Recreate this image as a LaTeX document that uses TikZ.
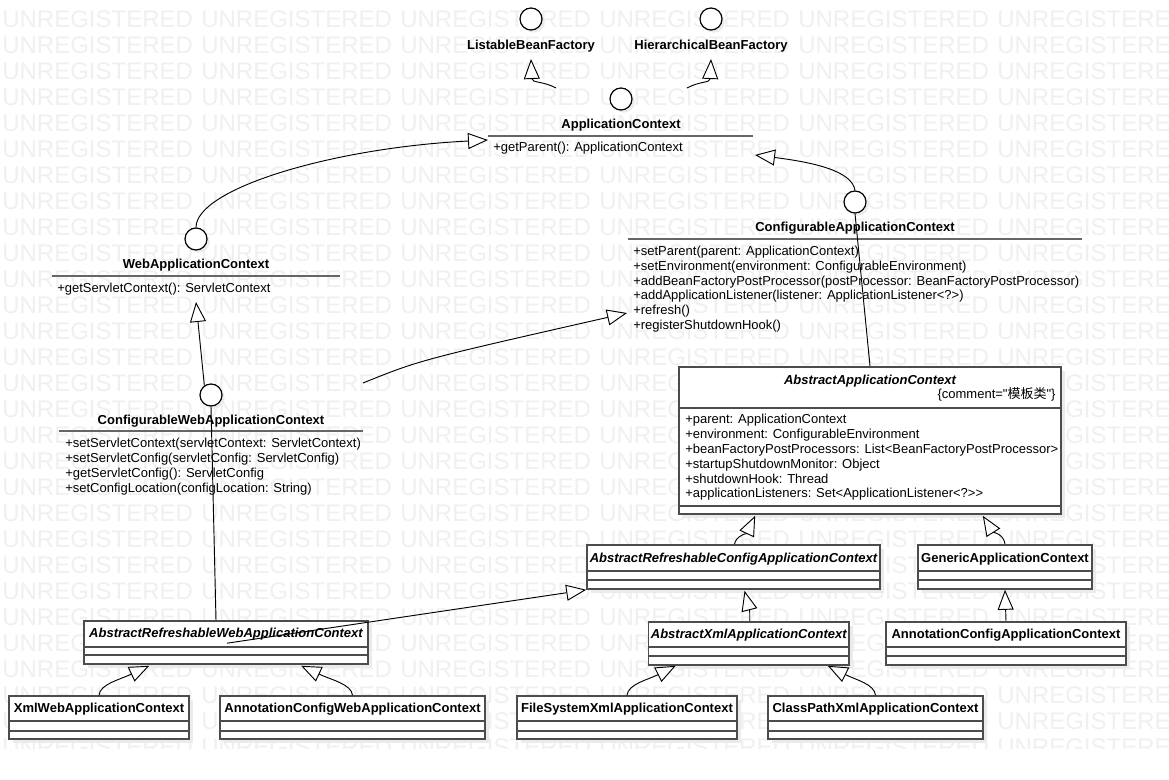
\documentclass[tikz,border=0pt]{standalone}
\usepackage{fontspec}
\newfontfamily\umlfont{Liberation Sans}
\newfontfamily\cjk{Noto Sans CJK SC}
\usetikzlibrary{arrows.meta,calc,fit,shadows}

\begin{document}
\begin{tikzpicture}[x=0.75pt,y=-0.75pt,
    wmark/.style={anchor=west,inner sep=0pt,text=black!6,font=\umlfont\fontsize{18}{18}\selectfont},
    lolli/.style={circle,draw=black,fill=white,line width=0.9pt,minimum size=16.5pt,inner sep=0pt,
        drop shadow={shadow xshift=2pt,shadow yshift=-2pt,fill=black!8,opacity=1}},
    ifname/.style={anchor=base,inner sep=0pt,font=\umlfont\fontsize{9.75}{11.25}\selectfont\bfseries},
    ctitle/.style={anchor=base,inner sep=0pt,font=\umlfont\fontsize{9.75}{11.25}\selectfont\bfseries},
    atitle/.style={anchor=base,inner sep=0pt,font=\umlfont\fontsize{9.75}{11.25}\selectfont\bfseries\itshape},
    optext/.style={anchor=base west,inner sep=0pt,font=\umlfont\fontsize{9.75}{11.25}\selectfont},
    isep/.style={draw=black!60,line width=1.1pt},
    classbox/.style={draw=black!70,fill=white,line width=1.2pt,inner sep=0pt,
        drop shadow={shadow xshift=3pt,shadow yshift=-3pt,fill=black!8,opacity=1}},
    csep/.style={draw=black!70,line width=1.2pt},
    gen/.style={draw=black,line width=0.7pt,-{Triangle[length=15pt,width=12pt,fill=white]}},
    real/.style={draw=black,line width=0.7pt}]
\useasboundingbox (0,0) rectangle (1169,780);
\fill[white] (0,0) rectangle (1169,780);

\begin{scope}
    \clip (0,0) rectangle (1169,748);
    \foreach \r in {0,...,28} {
        \foreach \c in {0,...,5} {
            \node[wmark] (wm\r-\c) at ({2+199*\c},{19+26*\r}) {UNREGISTERED};
        }
    }
\end{scope}

% interfaces
\node[lolli] (lbf) at (531,19) {};
\node[ifname] (lbfname) at (531,49.5) {ListableBeanFactory};
\node[lolli] (hbf) at (711,19) {};
\node[ifname] (hbfname) at (711,49.5) {HierarchicalBeanFactory};

\node[lolli] (ac) at (621,99) {};
\node[ifname] (acname) at (621,128.5) {ApplicationContext};
\draw[isep] (488,136) -- (753,136);
\node[optext] (acop) at (493,152) {+getParent(): ApplicationContext};

\node[lolli] (wac) at (196,239) {};
\node[ifname] (wacname) at (196,268.5) {WebApplicationContext};
\draw[isep] (52,276) -- (340,276);
\node[optext] (wacop) at (57,292) {+getServletContext(): ServletContext};

\node[lolli] (cwac) at (211,395) {};
\node[ifname] (cwacname) at (211,424.5) {ConfigurableWebApplicationContext};
\draw[isep] (59,431) -- (363,431);
\node[optext] (cwacop1) at (65,447.3) {+setServletContext(servletContext: ServletContext)};
\node[optext] (cwacop2) at (65,462.5) {+setServletConfig(servletConfig: ServletConfig)};
\node[optext] (cwacop3) at (65,477.7) {+getServletConfig(): ServletConfig};
\node[optext] (cwacop4) at (65,492.9) {+setConfigLocation(configLocation: String)};

\node[lolli] (cac) at (855,202) {};
\node[ifname] (cacname) at (855,231.5) {ConfigurableApplicationContext};
\draw[isep] (628,239) -- (1082,239);
\node[optext] (cacop1) at (633,255.5) {+setParent(parent: ApplicationContext)};
\node[optext] (cacop2) at (633,270.3) {+setEnvironment(environment: ConfigurableEnvironment)};
\node[optext] (cacop3) at (633,285.1) {+addBeanFactoryPostProcessor(postProcessor: BeanFactoryPostProcessor)};
\node[optext] (cacop4) at (633,299.9) {+addApplicationListener(listener: ApplicationListener<?>)};
\node[optext] (cacop5) at (633,314.7) {+refresh()};
\node[optext] (cacop6) at (633,329.5) {+registerShutdownHook()};

% classes
\node[classbox,fit={(679,367) (1061,514)}] (aac) {};
\draw[csep] (679,408) -- (1061,408);
\draw[csep] (679,506) -- (1061,506);
\node[atitle] (aactitle) at ($(aac.north)+(0,18.5)$) {AbstractApplicationContext};
\node[optext,anchor=base east] (aaccomment) at ($(aac.north east)+(-6,32.5)$) {\{comment="{\cjk 模板类}"\}};
\node[optext] (aacat1) at (685,423.8) {+parent: ApplicationContext};
\node[optext] (aacat2) at (685,438.6) {+environment: ConfigurableEnvironment};
\node[optext] (aacat3) at (685,453.4) {+beanFactoryPostProcessors: List<BeanFactoryPostProcessor>};
\node[optext] (aacat4) at (685,468.2) {+startupShutdownMonitor: Object};
\node[optext] (aacat5) at (685,483) {+shutdownHook: Thread};
\node[optext] (aacat6) at (685,497.8) {+applicationListeners: Set<ApplicationListener<?>>};

\node[classbox,fit={(587,545) (880,589)}] (arcac) {};
\draw[csep] (587,571) -- (880,571);
\draw[csep] (587,580) -- (880,580);
\node[atitle] (arcactitle) at ($(arcac.north)+(0,18.5)$) {AbstractRefreshableConfigApplicationContext};

\node[classbox,fit={(918,545) (1092,589)}] (gac) {};
\draw[csep] (918,571) -- (1092,571);
\draw[csep] (918,580) -- (1092,580);
\node[ctitle] (gactitle) at ($(gac.north)+(0,18.5)$) {GenericApplicationContext};

\node[classbox,fit={(648.5,622) (849,665)}] (axac) {};
\draw[csep] (648.5,647) -- (849,647);
\draw[csep] (648.5,656) -- (849,656);
\node[atitle] (axactitle) at ($(axac.north)+(0,17)$) {AbstractXmlApplicationContext};

\node[classbox,fit={(886,622) (1126,665)}] (acac) {};
\draw[csep] (886,647) -- (1126,647);
\draw[csep] (886,656) -- (1126,656);
\node[ctitle] (acactitle) at ($(acac.north)+(0,17)$) {AnnotationConfigApplicationContext};

\node[classbox,fit={(84,621) (368,664)}] (arwac) {};
\draw[csep] (84,647) -- (368,647);
\draw[csep] (84,655) -- (368,655);
\node[atitle] (arwactitle) at ($(arwac.north)+(0,17.5)$) {AbstractRefreshableWebApplicationContext};

\node[classbox,fit={(9,696) (189,739)}] (xwac) {};
\draw[csep] (9,721) -- (189,721);
\draw[csep] (9,731) -- (189,731);
\node[ctitle] (xwactitle) at ($(xwac.north)+(0,17)$) {XmlWebApplicationContext};

\node[classbox,fit={(220,696) (485,739)}] (acwac) {};
\draw[csep] (220,721) -- (485,721);
\draw[csep] (220,731) -- (485,731);
\node[ctitle] (acwactitle) at ($(acwac.north)+(0,17)$) {AnnotationConfigWebApplicationContext};

\node[classbox,fit={(517,696) (737,739)}] (fsxac) {};
\draw[csep] (517,721) -- (737,721);
\draw[csep] (517,731) -- (737,731);
\node[ctitle] (fsxactitle) at ($(fsxac.north)+(0,17)$) {FileSystemXmlApplicationContext};

\node[classbox,fit={(768,696) (983,739)}] (cpxac) {};
\draw[csep] (768,721) -- (983,721);
\draw[csep] (768,731) -- (983,731);
\node[ctitle] (cpxactitle) at ($(cpxac.north)+(0,17)$) {ClassPathXmlApplicationContext};

% relations
\draw[gen] ($(ac)+(-65,-11)$) .. controls ($(ac)+(-78,-18)$) and ($(lbf)+(1,64)$) .. ($(lbf)+(0,40)$);
\draw[gen] ($(ac)+(66,-11)$) .. controls ($(ac)+(79,-18)$) and ($(hbf)+(-1,64)$) .. ($(hbf)+(0,40)$);
\draw[gen] (wac.north) .. controls ($(wac)+(0,-50)$) and ($(ac)+(-290,49)$) .. ($(ac)+(-133,41)$);
\draw[gen] (cac.north) .. controls ($(cac)+(-3,-32)$) and ($(cac)+(-45,-40)$) .. ($(ac)+(134,56)$);
\draw[gen] (cwac.125) -- ($(wac)+(0,63)$);
\draw[gen] ($(cwac)+(152,-12)$) .. controls ($(cwac)+(209,-35)$) .. ($(cac)+(-228,111)$);
\draw[real] (aac.north) -- (cac.south);
\draw[real] (cwac.south) -- ($(arwac.north)+(-10,0)$);
\draw[gen] ($(arcac.north)+(1,0)$) .. controls ($(arcac.north)+(2,-8)$) and ($(aac.south west)+(69,18)$) .. ($(aac.south west)+(77,1)$);
\draw[gen] (gac.north) .. controls ($(gac.north)+(-1,-10)$) and ($(aac.south east)+(-69,17)$) .. ($(aac.south east)+(-79,1)$);
\draw[gen] ($(axac.north)+(1,0)$) .. controls ($(axac.north)+(1,-10)$) .. ($(arcac.south)+(11,1)$);
\draw[gen] (acac.north) -- (gac.south);
\draw[gen] ($(arwac.north)+(1,23)$) -- (arcac.south west);
\draw[gen] (xwac.north) .. controls ($(xwac.north)+(1,-11)$) and ($(arwac.south west)+(36,15)$) .. ($(arwac.south west)+(66,1)$);
\draw[gen] (acwac.north) .. controls ($(acwac.north)+(-1,-11)$) and ($(arwac.south west)+(248,15)$) .. ($(arwac.south west)+(218,1)$);
\draw[gen] (fsxac.north) .. controls ($(fsxac.north)+(1,-11)$) and ($(axac.south west)+(0,14)$) .. ($(axac.south west)+(28,0)$);
\draw[gen] (cpxac.north) .. controls ($(cpxac.north)+(-1,-11)$) and ($(axac.south east)+(6,14)$) .. ($(axac.south east)+(-22,0)$);
\end{tikzpicture}
\end{document}
